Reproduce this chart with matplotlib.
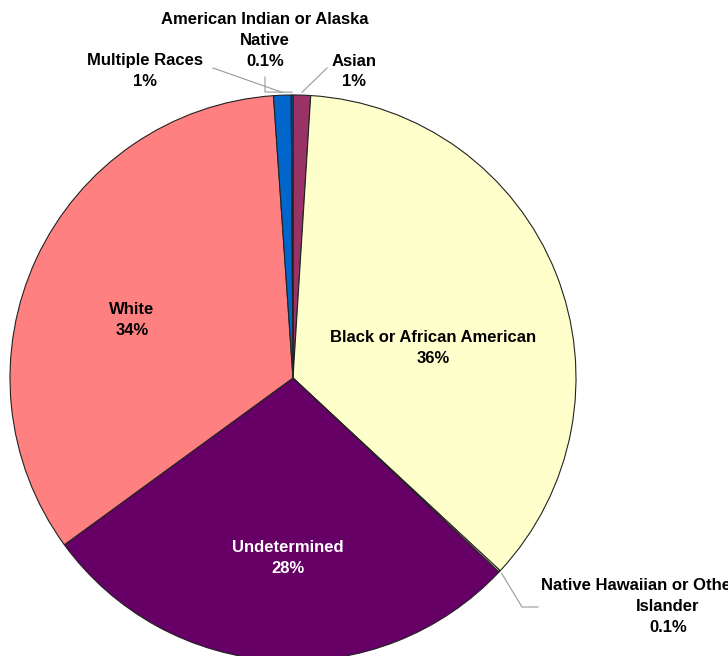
import numpy as np
import matplotlib
matplotlib.use("Agg")
import matplotlib.pyplot as plt

categories = ["Asian", "Black or African American", "Native Hawaiian or Other Pacific\nIslander",
              "Undetermined", "White", "Multiple Races", "American Indian or Alaska\nNative"]
values = [1, 36, 0.1, 28, 34, 1, 0.1]
pct_labels = ["1%", "36%", "0.1%", "28%", "34%", "1%", "0.1%"]
colors = ["#993366", "#FFFFCC", "#FFFFCC", "#660066", "#FF8080", "#0066CC", "#0066CC"]

plt.rcParams['font.family'] = ['Liberation Sans', 'DejaVu Sans']

W, H = 728, 656
fig = plt.figure(figsize=(W / 100, H / 100), dpi=100)
ax = fig.add_axes([0, 0, 1, 1])

cx, cy, r = 293, H - 378, 283
wedges, _ = ax.pie(values, colors=colors, startangle=90, counterclock=False,
                   center=(cx, cy), radius=r,
                   wedgeprops=dict(edgecolor="#222222", linewidth=0.8))
ax.set_xlim(0, W)
ax.set_ylim(0, H)
ax.set_aspect("equal")
ax.axis("off")

def edge(w, f=1.0):
    a = np.deg2rad((w.theta1 + w.theta2) / 2)
    return cx + f * r * np.cos(a), cy + f * r * np.sin(a)

LH = 20.5  # line height in pixels

def label(i, lx, ly_top, tc="black"):
    # one text per line, centred, first line baseline-centre at ly_top (px from top)
    lines = (categories[i] + "\n" + pct_labels[i]).split("\n")
    for k, s in enumerate(lines):
        ax.text(lx, H - (ly_top + k * LH), s, ha="center", va="center",
                fontsize=12, fontweight="bold", color=tc)

# inside labels
label(1, 433, 338)
label(3, 288, 548, "white")
label(4, 132, 310)

# outside labels with leader lines
outside = {
    0: (354, 61, [(327, 68)]),
    5: (145, 61, [(213, 68)]),
    6: (265, 20, [(265, 77), (265, 92)]),
    2: (668, 586, [(538, 607), (522, 607)]),
}
for i, (lx, ly, pts) in outside.items():
    label(i, lx, ly)
    ex, ey = edge(wedges[i], 1.01)
    xs = [p[0] for p in pts] + [ex]
    ys = [H - p[1] for p in pts] + [ey]
    ax.plot(xs, ys, color="#999999", linewidth=0.8)

fig.savefig("out.png", dpi=100)
